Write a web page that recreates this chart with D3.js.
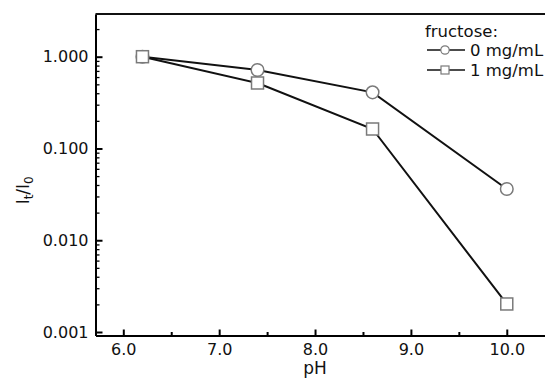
<!DOCTYPE html>
<html>
<head>
<meta charset="utf-8">
<script src="https://cdn.jsdelivr.net/npm/d3@7"></script>
<style>
  body { margin: 0; background: #fff; }
  text { font-family: "DejaVu Sans", Arial, sans-serif; fill: #111; }
</style>
</head>
<body>
<div id="chart"></div>
<script>
// data
var pH = [6.2, 7.4, 8.6, 10.0];
var fructose0 = [1.0, 0.716, 0.409, 0.0362];
var fructose1 = [1.0, 0.517, 0.163, 0.00202];
var seriesNames = ["0 mg/mL", "1 mg/mL"];
var xTicks = [6, 7, 8, 9, 10];
var xMinor = [6.5, 7.5, 8.5, 9.5];
var yTicks = [0.001, 0.01, 0.1, 1];

// set the dimensions and margins of the graph
var margin = {top: 14, right: -3, bottom: 42.5, left: 95.5},
    width = 545 - margin.left - margin.right,
    height = 378 - margin.top - margin.bottom;

var svg = d3.select("#chart")
  .append("svg")
    .attr("width", 545)
    .attr("height", 378)
  .append("g")
    .attr("transform", "translate(" + margin.left + "," + margin.top + ")");

var x = d3.scaleLinear()
  .domain([5.71, 10.43])
  .range([0, width]);

var y = d3.scaleLog()
  .domain([0.000916, 2.92])
  .range([height, 0]);

// minor log ticks
var yMinor = [];
[0.001, 0.01, 0.1, 1].forEach(function(d) {
  for (var k = 2; k <= 9; k++) {
    if (d * k < y.domain()[1]) yMinor.push(d * k);
  }
});

svg.append("g")
  .call(d3.axisLeft(y).tickValues(yMinor).tickSize(-4).tickFormat(""))
  .call(function(g) { g.select(".domain").remove(); })
  .selectAll("line").attr("stroke-width", 1.3);

var yAxis = svg.append("g")
  .call(d3.axisLeft(y).tickValues(yTicks).tickSizeInner(-7).tickSizeOuter(0)
    .tickPadding(7).tickFormat(d3.format(".3f")));
yAxis.selectAll("text").style("font-size", "16px");
yAxis.selectAll("line").attr("stroke-width", 2);
yAxis.select(".domain").attr("stroke-width", 2);

svg.append("g")
  .attr("transform", "translate(0," + height + ")")
  .call(d3.axisBottom(x).tickValues(xMinor).tickSize(-3.5).tickFormat(""))
  .call(function(g) { g.select(".domain").remove(); })
  .selectAll("line").attr("stroke-width", 2);

var xAxis = svg.append("g")
  .attr("transform", "translate(0," + height + ")")
  .call(d3.axisBottom(x).tickValues(xTicks).tickSizeInner(-6).tickSizeOuter(0)
    .tickPadding(8).tickFormat(d3.format(".1f")));
xAxis.selectAll("text").style("font-size", "16px");
xAxis.selectAll("line").attr("stroke-width", 2);
xAxis.select(".domain").attr("stroke-width", 2);

// top frame line
svg.append("line")
  .attr("x1", 0).attr("x2", width)
  .attr("y1", 0).attr("y2", 0)
  .attr("stroke", "#111").attr("stroke-width", 2);

// axis titles
svg.append("text")
  .attr("x", x(8.0))
  .attr("y", height + 38)
  .attr("text-anchor", "middle")
  .style("font-size", "17px")
  .text("pH");

var yl = svg.append("text")
  .attr("transform", "translate(" + (-67) + "," + y(0.035) + ") rotate(-90)")
  .attr("text-anchor", "middle")
  .style("font-size", "17px");
yl.append("tspan").text("I");
yl.append("tspan").attr("dy", 4).style("font-size", "12px").text("t");
yl.append("tspan").attr("dy", -4).text("/I");
yl.append("tspan").attr("dy", 4).style("font-size", "12px").text("0");

var line = d3.line()
  .x(function(d) { return x(d[0]); })
  .y(function(d) { return y(d[1]); });

var data0 = pH.map(function(p, i) { return [p, fructose0[i]]; });
var data1 = pH.map(function(p, i) { return [p, fructose1[i]]; });

[data0, data1].forEach(function(data) {
  svg.append("path")
    .datum(data)
    .attr("d", line)
    .attr("fill", "none")
    .attr("stroke", "#111")
    .attr("stroke-width", 2);
});

var markerStroke = "#7a7a7a";

svg.selectAll(".ci")
  .data(data0)
  .enter()
  .append("circle")
    .attr("cx", function(d) { return x(d[0]); })
    .attr("cy", function(d) { return y(d[1]); })
    .attr("r", 6.3)
    .attr("fill", "#fff")
    .attr("stroke", markerStroke)
    .attr("stroke-width", 1.5);

svg.selectAll(".sq")
  .data(data1)
  .enter()
  .append("rect")
    .attr("x", function(d) { return x(d[0]) - 6; })
    .attr("y", function(d) { return y(d[1]) - 6; })
    .attr("width", 12)
    .attr("height", 12)
    .attr("fill", "#fff")
    .attr("stroke", markerStroke)
    .attr("stroke-width", 1.5);

// legend
var lg = svg.append("g")
  .attr("transform", "translate(" + (425 - margin.left) + "," + 0 + ")");

lg.append("text")
  .attr("x", 0).attr("y", 23)
  .style("font-size", "16.5px")
  .text("fructose:");

seriesNames.forEach(function(name, i) {
  var cy = 36 + i * 20;
  lg.append("line")
    .attr("x1", 2).attr("x2", 40)
    .attr("y1", cy).attr("y2", cy)
    .attr("stroke", "#111").attr("stroke-width", 1.5);
  if (i === 0) {
    lg.append("circle")
      .attr("cx", 20).attr("cy", cy).attr("r", 4.2)
      .attr("fill", "#fff").attr("stroke", markerStroke).attr("stroke-width", 1.2);
  } else {
    lg.append("rect")
      .attr("x", 16).attr("y", cy - 4).attr("width", 8).attr("height", 8)
      .attr("fill", "#fff").attr("stroke", markerStroke).attr("stroke-width", 1.2);
  }
  lg.append("text")
    .attr("x", 45).attr("y", cy + 6)
    .style("font-size", "16.5px")
    .text(name);
});
</script>
</body>
</html>
